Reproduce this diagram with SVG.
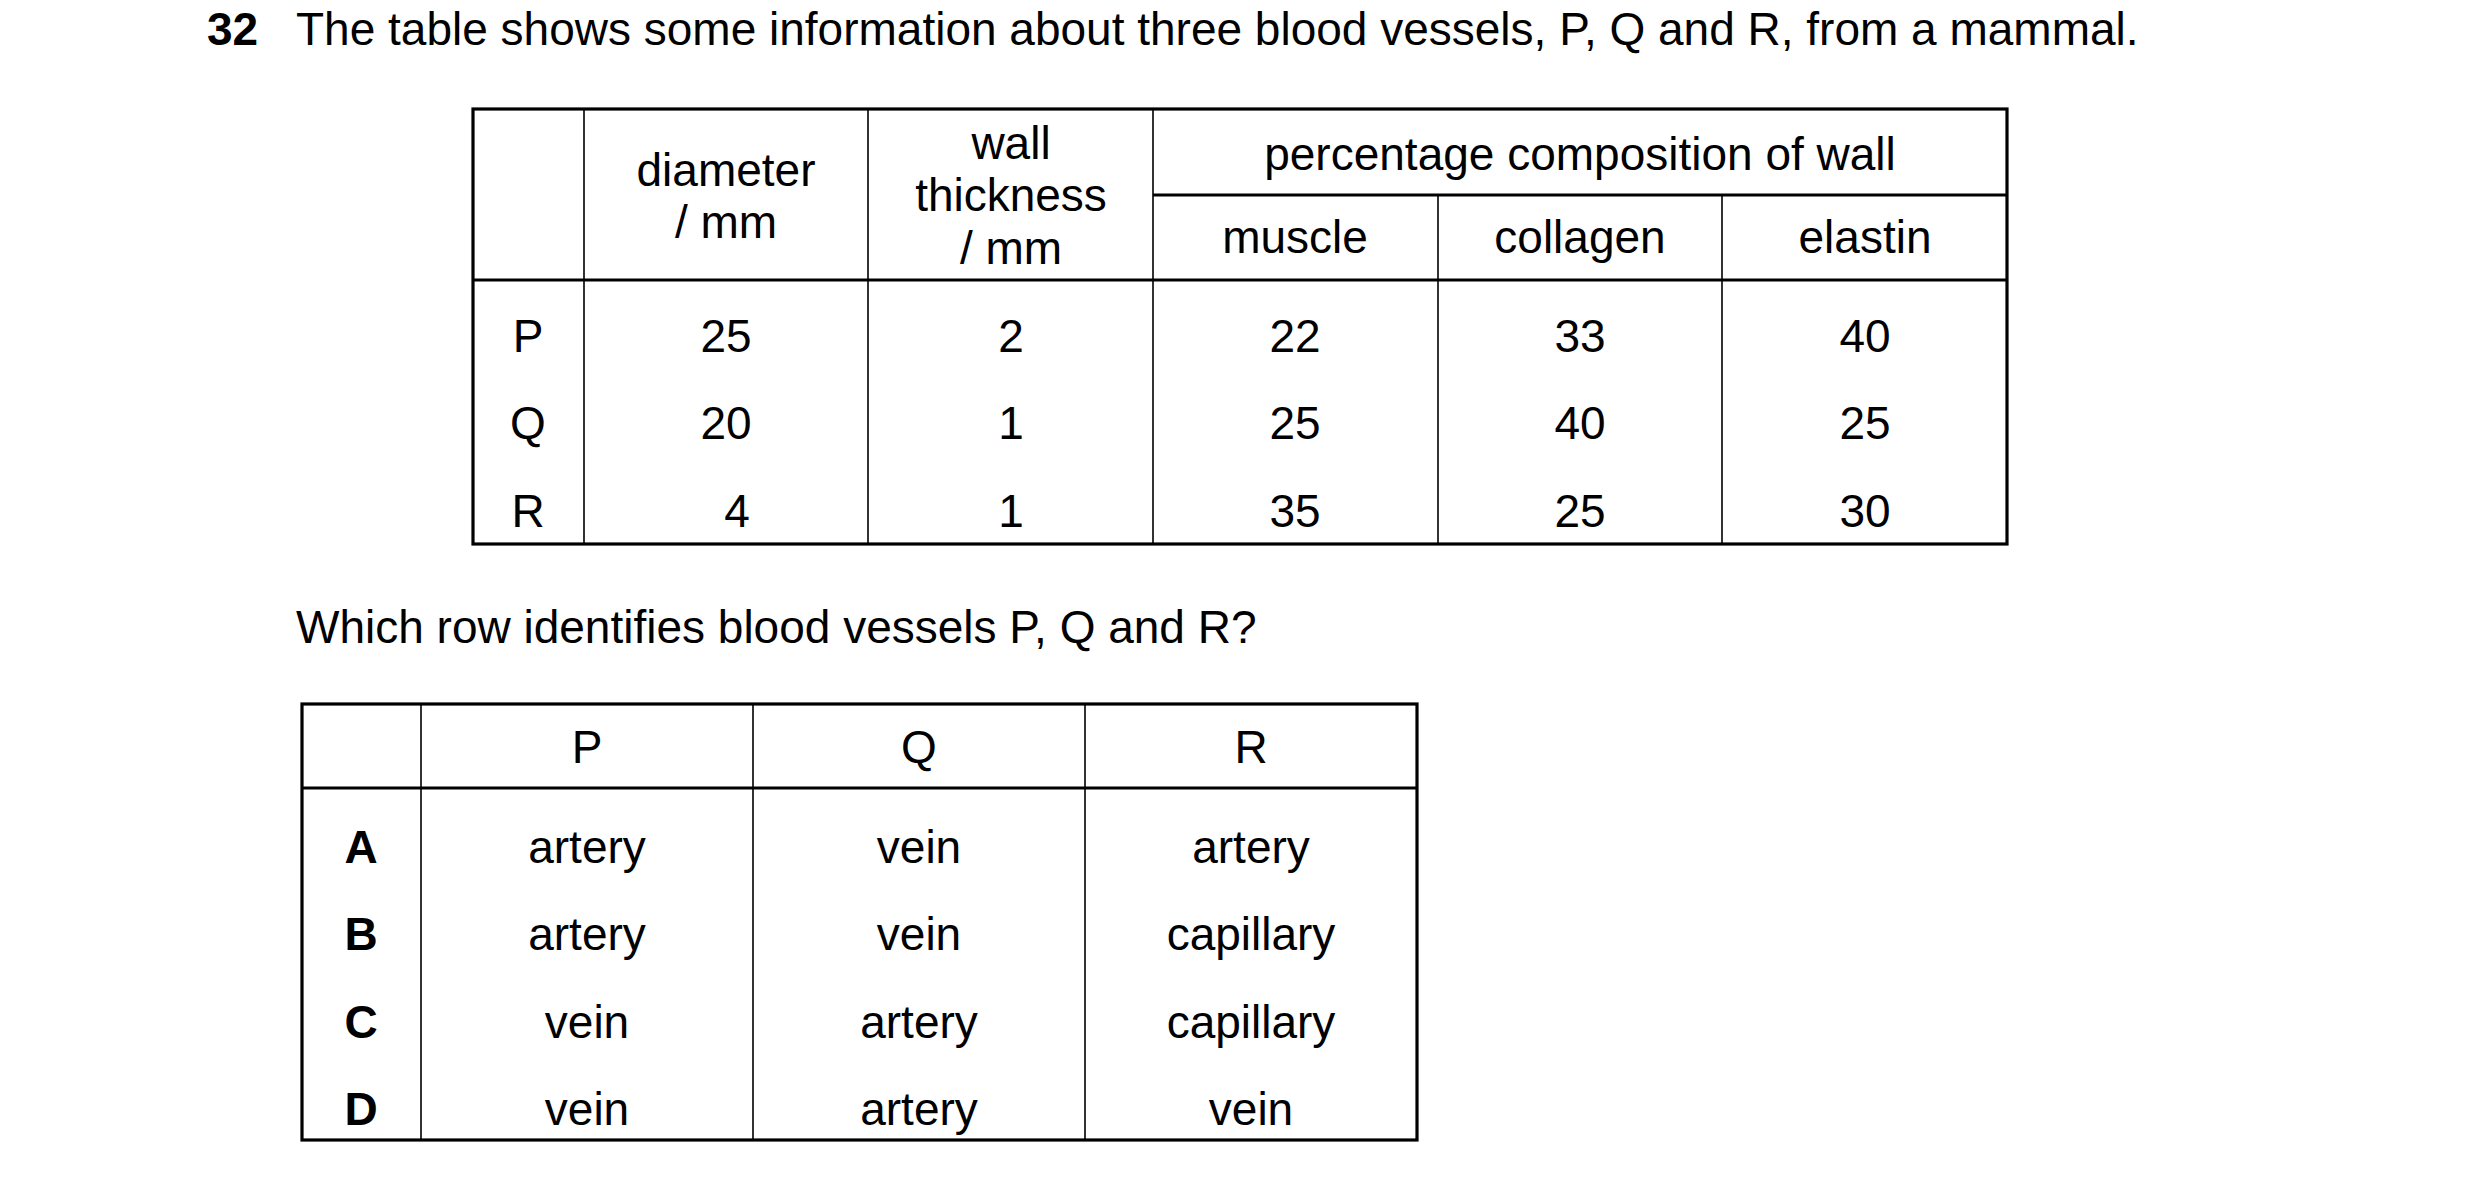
<svg xmlns="http://www.w3.org/2000/svg" width="2480" height="1181" viewBox="0 0 2480 1181">
<style>
text{font-family:"Liberation Sans",Arial,sans-serif;font-size:46px;fill:#000}
.c{text-anchor:middle}
.b{font-weight:bold}
.thick{stroke:#000;stroke-width:3.2;fill:none}
.thin{stroke:#000;stroke-width:1.6;fill:none}
</style>
<rect width="2480" height="1181" fill="#fff"/>
<g id="title">
<text x="207" y="45" class="b">32</text>
<text x="296" y="45">The table shows some information about three blood vessels, P, Q and R, from a mammal.</text>
</g>
<g id="table1">
<rect x="473" y="109" width="1534" height="435" class="thick"/>
<line x1="473" y1="280" x2="2007" y2="280" class="thick"/>
<line x1="1153" y1="195" x2="2007" y2="195" class="thick"/>
<path d="M584 109V544M868 109V544M1153 109V544M1438 195V544M1722 195V544" class="thin"/>
<text x="726" y="186" class="c">diameter</text>
<text x="726" y="238" class="c">/ mm</text>
<text x="1011" y="159" class="c">wall</text>
<text x="1011" y="211" class="c">thickness</text>
<text x="1011" y="264" class="c">/ mm</text>
<text x="1580" y="170" class="c">percentage composition of wall</text>
<text x="1295" y="253" class="c">muscle</text>
<text x="1580" y="253" class="c">collagen</text>
<text x="1865" y="253" class="c">elastin</text>
<text x="528" y="352" class="c">P</text>
<text x="726" y="352" class="c">25</text>
<text x="1011" y="352" class="c">2</text>
<text x="1295" y="352" class="c">22</text>
<text x="1580" y="352" class="c">33</text>
<text x="1865" y="352" class="c">40</text>
<text x="528" y="439" class="c">Q</text>
<text x="726" y="439" class="c">20</text>
<text x="1011" y="439" class="c">1</text>
<text x="1295" y="439" class="c">25</text>
<text x="1580" y="439" class="c">40</text>
<text x="1865" y="439" class="c">25</text>
<text x="528" y="527" class="c">R</text>
<text x="737" y="527" class="c">4</text>
<text x="1011" y="527" class="c">1</text>
<text x="1295" y="527" class="c">35</text>
<text x="1580" y="527" class="c">25</text>
<text x="1865" y="527" class="c">30</text>
</g>
<g id="question">
<text x="296" y="643">Which row identifies blood vessels P, Q and R?</text>
</g>
<g id="table2">
<rect x="302" y="704" width="1115" height="436" class="thick"/>
<line x1="302" y1="788" x2="1417" y2="788" class="thick"/>
<path d="M421 704V1140M753 704V1140M1085 704V1140" class="thin"/>
<text x="587" y="763" class="c">P</text>
<text x="919" y="763" class="c">Q</text>
<text x="1251" y="763" class="c">R</text>
<text x="361" y="863" class="c b">A</text>
<text x="587" y="863" class="c">artery</text>
<text x="919" y="863" class="c">vein</text>
<text x="1251" y="863" class="c">artery</text>
<text x="361" y="950" class="c b">B</text>
<text x="587" y="950" class="c">artery</text>
<text x="919" y="950" class="c">vein</text>
<text x="1251" y="950" class="c">capillary</text>
<text x="361" y="1038" class="c b">C</text>
<text x="587" y="1038" class="c">vein</text>
<text x="919" y="1038" class="c">artery</text>
<text x="1251" y="1038" class="c">capillary</text>
<text x="361" y="1125" class="c b">D</text>
<text x="587" y="1125" class="c">vein</text>
<text x="919" y="1125" class="c">artery</text>
<text x="1251" y="1125" class="c">vein</text>
</g>
</svg>
